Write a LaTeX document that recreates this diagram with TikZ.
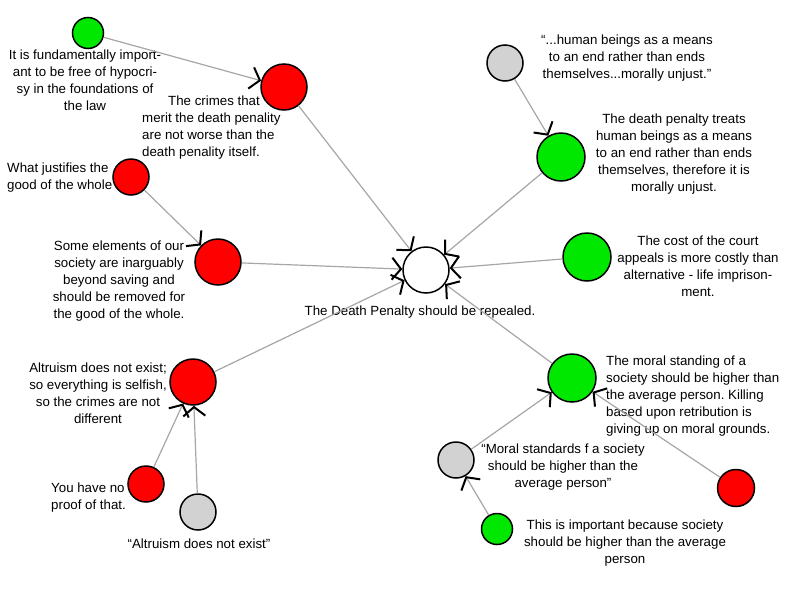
\documentclass[tikz,border=0pt]{standalone}
\usepackage{fontspec}
\setmainfont{Liberation Sans}
\usetikzlibrary{arrows.meta}
\definecolor{progreen}{RGB}{0,232,0}
\definecolor{conred}{RGB}{255,0,0}
\definecolor{quotegray}{RGB}{210,210,210}
\frenchspacing
\begin{document}
\begin{tikzpicture}[x=1pt,y=-1pt,
arg/.style={circle, draw=black, line width=1.5pt, inner sep=0pt, minimum size=46pt},
pro/.style={arg, fill=progreen}, con/.style={arg, fill=conred},
quote/.style={arg, fill=quotegray, minimum size=36pt},
txt/.style={font=\fontsize{13.3}{17}\selectfont, inner sep=0pt, align=center},
link/.style={draw=gray!70, line width=1.2pt,
    -{Straight Barb[color=black, length=9pt, width=22pt, line width=2pt]}}]
\useasboundingbox (0,0) rectangle (800,600);
% claims
\node[arg, fill=white] (repeal) at (426,270) {};
\node[con] (crimes) at (284,87) {};
\node[pro, minimum size=31pt] (hypocrisy) at (88,33) {};
\node[con] (elements) at (218,262) {};
\node[con, minimum size=36pt] (justify) at (131,177) {};
\node[con] (altruism) at (193,382) {};
\node[con, minimum size=36pt] (proof) at (146,484) {};
\node[quote] (altquote) at (198,512) {};
\node[pro, minimum size=48pt] (means) at (561,157) {};
\node[quote] (meansquote) at (505,63) {};
\node[pro, minimum size=48pt] (cost) at (587,257) {};
\node[pro, minimum size=48pt] (moral) at (572,378) {};
\node[quote] (moralquote) at (456,460) {};
\node[pro, minimum size=31pt] (important) at (497,529) {};
\node[con, minimum size=37pt] (retort) at (736,488) {};
% texts
\node[txt] (repeal-t) at (420,312) {The Death Penalty should be repealed.};
\node[txt] (hypocrisy-t) at (85,80) {It is fundamentally import-\\ant to be free of hypocri-\\sy in the foundations of\\the law};
\node[txt, align=left, anchor=west] (crimes-t) at (142,128) {\hspace*{26pt}The crimes that\\merit the death penality\\are not worse than the\\death penality itself.};
\node[txt, align=left, anchor=west] (justify-t) at (7,178) {What justifies the\\good of the whole};
\node[txt] (elements-t) at (119,281) {Some elements of our\\society are inarguably\\beyond saving and\\should be removed for\\the good of the whole.};
\node[txt] (altruism-t) at (98,393) {Altruism does not exist;\\so everything is selfish,\\so the crimes are not\\different};
\node[txt, align=left, anchor=west] (proof-t) at (51,498) {You have no\\proof of that.};
\node[txt] (altquote-t) at (199,544) {“Altruism does not exist”};
\node[txt] (meansquote-t) at (627,58) {“...human beings as a means\\to an end rather than ends\\themselves...morally unjust.”};
\node[txt] (means-t) at (674,154) {The death penalty treats\\human beings as a means\\to an end rather than ends\\themselves, therefore it is\\morally unjust.};
\node[txt] (cost-t) at (698,266) {The cost of the court\\appeals is more costly than\\alternative - life imprison-\\ment.};
\node[txt, align=left, anchor=west] (moral-t) at (606,396) {The moral standing of a\\society should be higher than\\the average person. Killing\\based upon retribution is\\giving up on moral grounds.};
\node[txt] (moralquote-t) at (563,467) {“Moral standards f a society\\should be higher than the\\average person”};
\node[txt] (important-t) at (625,543) {This is important because society\\should be higher than the average\\person};
% links
\draw[link] (hypocrisy) -- (crimes);
\draw[link] (crimes) -- (repeal);
\draw[link] (justify) -- (elements);
\draw[link] (elements) -- (repeal);
\draw[link] (altruism) -- (repeal);
\draw[link] (proof) -- (altruism);
\draw[link] (altquote) -- (altruism);
\draw[link] (meansquote) -- (means);
\draw[link] (means) -- (repeal);
\draw[link] (cost) -- (repeal);
\draw[link] (moral) -- (repeal);
\draw[link] (moralquote) -- (moral);
\draw[link] (important) -- (moralquote);
\draw[link] (retort) -- (moral);
\end{tikzpicture}
\end{document}
